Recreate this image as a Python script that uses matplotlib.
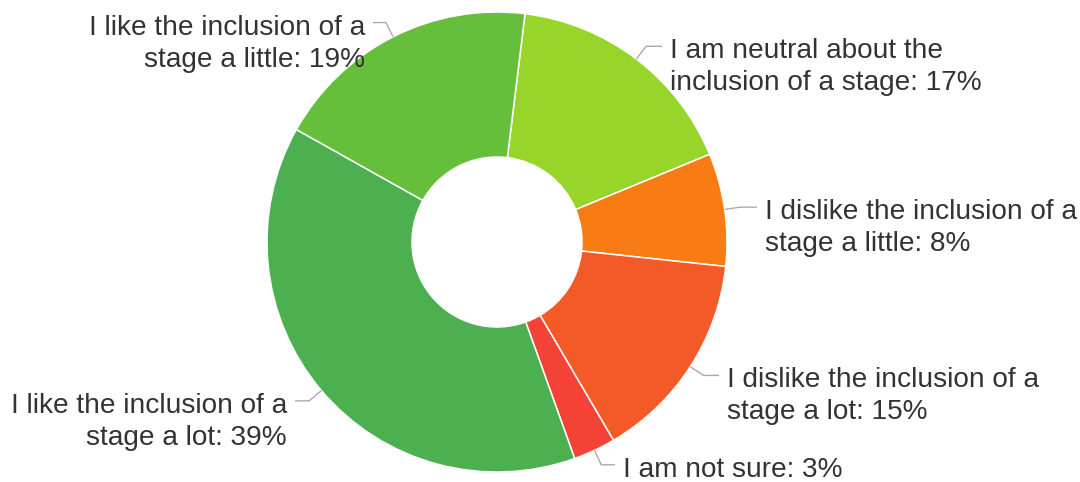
import matplotlib
matplotlib.use('Agg')
import matplotlib.pyplot as plt
import numpy as np

# ---- data ----
labels = ["I am neutral about the\ninclusion of a stage",
          "I dislike the inclusion of a\nstage a little",
          "I dislike the inclusion of a\nstage a lot",
          "I am not sure",
          "I like the inclusion of a\nstage a lot",
          "I like the inclusion of a\nstage a little"]
percents = [17, 8, 15, 3, 39, 19]
colors = ["#97d52b", "#f97b14", "#f45a27", "#f44336", "#4caf50", "#65bf3b"]

# ---- layout ----
W, H = 1080, 482
text_x = [670, 765, 727, 623, 287, 365]

plt.rcParams['font.family'] = ['Liberation Sans', 'DejaVu Sans']
fig = plt.figure(figsize=(W / 100, H / 100), dpi=100)
ax = fig.add_axes([0, 0, 1, 1])
cx, cy = 497, H - 242
R, r = 230, 85
wedges, _ = ax.pie(percents, colors=colors, startangle=83, counterclock=False,
                   radius=R, center=(cx, cy), frame=True,
                   wedgeprops=dict(width=R - r, edgecolor='white', linewidth=1.1))
ax.set_xlim(0, W)
ax.set_ylim(0, H)
ax.set_aspect('equal')
ax.axis('off')

for w, lab, pct, tx in zip(wedges, labels, percents, text_x):
    mid = np.deg2rad((w.theta1 + w.theta2) / 2)
    c, s = np.cos(mid), np.sin(mid)
    p0 = (cx + R * c, cy + R * s)
    p1 = (cx + (R + 16) * c, cy + (R + 16) * s)
    right = c >= 0
    p2 = (tx - 8, p1[1]) if right else (tx + 8, p1[1])
    ax.plot([p0[0], p1[0], p2[0]], [p0[1], p1[1], p2[1]], color='#aaaaaa',
            lw=1.0, solid_capstyle='butt')
    lines = (lab + f": {pct}%").split("\n")
    for i, ln in enumerate(lines):
        ax.text(tx, p1[1] - 12 - 32 * i, ln, ha='left' if right else 'right',
                va='baseline', fontsize=20.2, color='#333333')

fig.savefig('out.png', dpi=100, facecolor='white')
